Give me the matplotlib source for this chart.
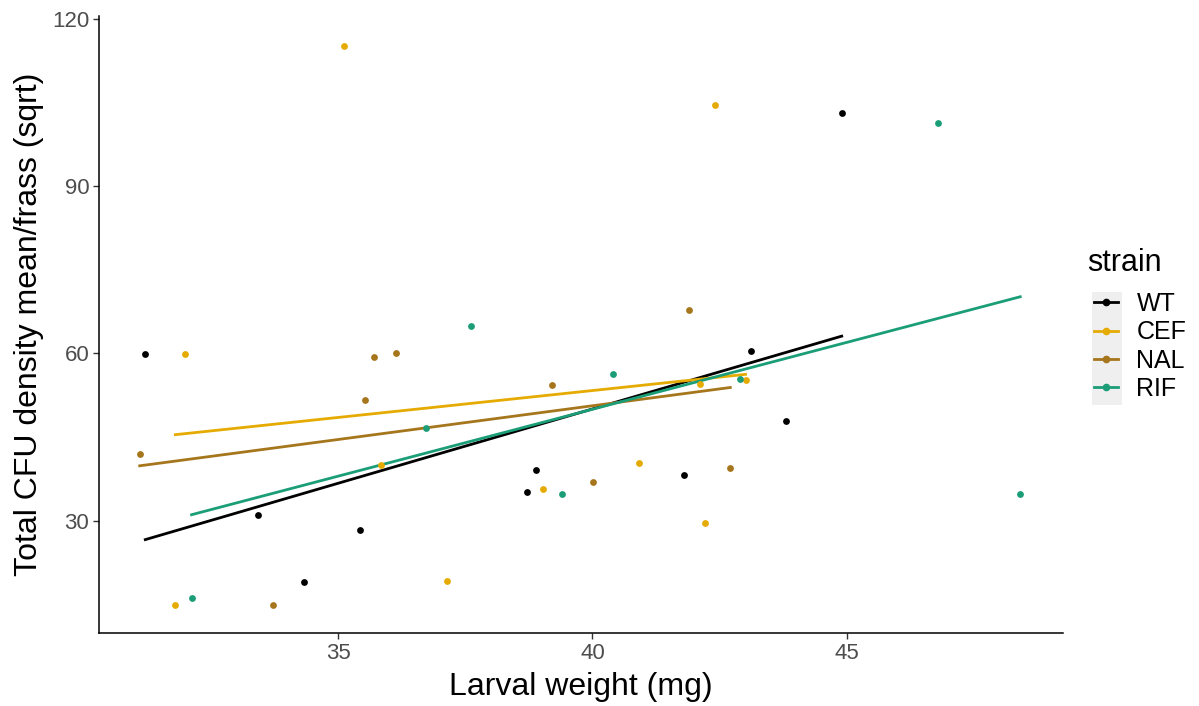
import numpy as np
import matplotlib
matplotlib.use("Agg")
import matplotlib.pyplot as plt
from matplotlib.lines import Line2D
from matplotlib.patches import Rectangle

plt.rcParams["font.family"] = ["Liberation Sans", "DejaVu Sans"]

strains = ["WT", "CEF", "NAL", "RIF"]
colors = ["#000000", "#E6AB02", "#A6761D", "#1B9E77"]

wt_x = [31.21, 33.42, 35.43, 34.32, 43.11, 43.80, 38.89, 38.71, 41.80, 44.90]
wt_y = [59.9, 31.0, 28.3, 18.9, 60.4, 47.8, 39.1, 35.15, 38.2, 103.1]

cef_x = [32.00, 31.80, 37.14, 35.84, 42.12, 43.01, 39.02, 40.92, 42.22, 42.41, 35.12]
cef_y = [59.9, 14.8, 19.1, 40.0, 54.6, 55.3, 35.6, 40.35, 29.5, 104.6, 115.2]

nal_x = [31.10, 33.72, 35.71, 36.13, 35.53, 41.90, 39.21, 40.01, 42.71]
nal_y = [42.0, 14.8, 59.3, 60.1, 51.6, 67.8, 54.4, 36.9, 39.5]

rif_x = [32.12, 37.62, 36.73, 40.41, 42.91, 39.41, 48.41, 46.80]
rif_y = [16.1, 65.0, 46.6, 56.4, 55.5, 34.7, 34.7, 101.4]

groups = [(wt_x, wt_y), (cef_x, cef_y), (nal_x, nal_y), (rif_x, rif_y)]

W, H = 1199, 706
fig = plt.figure(figsize=(W / 100, H / 100), dpi=100)
ax = fig.add_axes([99 / W, 1 - 633 / H, (1063 - 99) / W, (633 - 16) / H])

for (xs, ys), col in zip(groups, colors):
    xs = np.array(xs)
    ys = np.array(ys)
    ax.scatter(xs, ys, s=24, color=col, zorder=3, linewidths=0)
    slope, icpt = np.polyfit(xs, ys, 1)
    xl = np.array([xs.min(), xs.max()])
    ax.plot(xl, slope * xl + icpt, color=col, lw=2.0, zorder=2)

ax.set_xlim(30.3, 49.25)
ax.set_ylim(9.8, 120.6)
ax.set_xticks([35, 40, 45])
ax.set_yticks([30, 60, 90, 120])
for s in ["top", "right"]:
    ax.spines[s].set_visible(False)
for s in ["left", "bottom"]:
    ax.spines[s].set_linewidth(1.1)
ax.tick_params(axis="both", labelsize=16, colors="#333333", labelcolor="#4D4D4D",
               length=4, width=1.0, pad=3)
ax.set_xlabel("Larval weight (mg)", fontsize=23, labelpad=6)
ax.set_ylabel("Total CFU density mean/frass (sqrt)", fontsize=23, labelpad=6)

# legend: title, grey key background, entries
fig.text(1087 / W, 1 - 263 / H, "strain", fontsize=22, va="center", ha="left")
fig.patches.append(Rectangle((1092 / W, 1 - 405 / H), 30 / W, 113 / H,
                             transform=fig.transFigure, facecolor="#EFEFEF",
                             edgecolor="none", zorder=0))

handles = [Line2D([0], [0], color=c, lw=2.0, marker="o", markersize=4.5) for c in colors]
leg = fig.legend(handles, strains, loc="upper left",
                 bbox_to_anchor=(1094 / W, 1 - 292 / H), frameon=False, fontsize=18,
                 handlelength=0.95, labelspacing=0.17,
                 handletextpad=0.75, borderpad=0.0, borderaxespad=0.0)

fig.savefig("out.png", dpi=100)
